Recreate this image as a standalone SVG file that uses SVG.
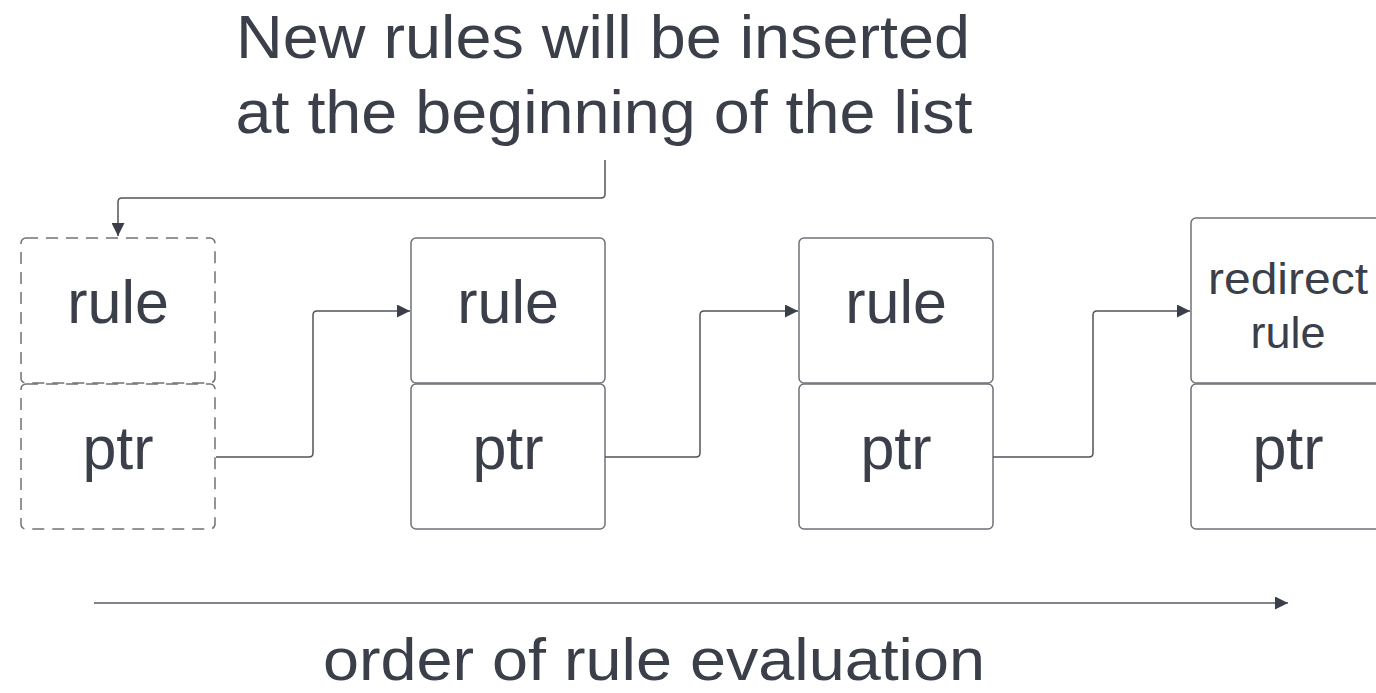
<svg xmlns="http://www.w3.org/2000/svg" width="1376" height="693" viewBox="0 0 1376 693">
<defs>
<style>
.t{font-family:"Liberation Sans",Arial,sans-serif;fill:#3a3f4a;text-anchor:middle}
.box{fill:#fff;stroke:#6e7278;stroke-width:1.5}
.dash{fill:#fff;stroke:#6e7278;stroke-width:1.5;stroke-dasharray:12 8}
.conn{fill:none;stroke:#50545b;stroke-width:1.5}
</style>
<marker id="ah" viewBox="0 0 10 10" refX="10" refY="5" markerWidth="18" markerHeight="13" markerUnits="userSpaceOnUse" orient="auto">
<path d="M0,0 L10,5 L0,10 z" fill="#3a3f4a"/>
</marker>
</defs>
<rect width="1376" height="693" fill="#fff"/>
<text class="t" x="603" y="58" font-size="62" textLength="734" lengthAdjust="spacingAndGlyphs">New rules will be inserted</text>
<text class="t" x="604" y="133" font-size="62" textLength="737" lengthAdjust="spacingAndGlyphs">at the beginning of the list</text>
<g id="node1">
<rect class="dash" x="21" y="238" width="194" height="145" rx="5"/>
<rect class="dash" x="21" y="384" width="194" height="145" rx="5"/>
<text class="t" x="118" y="323" font-size="61">rule</text>
<text class="t" x="118" y="469" font-size="61">ptr</text>
</g>
<g id="node2">
<rect class="box" x="411" y="238" width="194" height="145" rx="5"/>
<rect class="box" x="411" y="384" width="194" height="145" rx="5"/>
<text class="t" x="508" y="323" font-size="61">rule</text>
<text class="t" x="508" y="469" font-size="61">ptr</text>
</g>
<g id="node3">
<rect class="box" x="799" y="238" width="194" height="145" rx="5"/>
<rect class="box" x="799" y="384" width="194" height="145" rx="5"/>
<text class="t" x="896" y="323" font-size="61">rule</text>
<text class="t" x="896" y="469" font-size="61">ptr</text>
</g>
<g id="node4">
<rect class="box" x="1191" y="218" width="194" height="165" rx="5"/>
<rect class="box" x="1191" y="384" width="194" height="145" rx="5"/>
<text class="t" x="1288" y="294" font-size="45" textLength="160" lengthAdjust="spacingAndGlyphs">redirect</text>
<text class="t" x="1288" y="348" font-size="45">rule</text>
<text class="t" x="1288" y="469" font-size="61">ptr</text>
</g>
<g id="connectors">
<path class="conn" d="M605,160 V194 Q605,198 601,198 H122 Q118,198 118,202 V236" marker-end="url(#ah)"/>
<path class="conn" d="M216,457 H309 Q313,457 313,453 V315 Q313,311 317,311 H410" marker-end="url(#ah)"/>
<path class="conn" d="M605,457 H696 Q700,457 700,453 V315 Q700,311 704,311 H798" marker-end="url(#ah)"/>
<path class="conn" d="M993,457 H1089 Q1093,457 1093,453 V315 Q1093,311 1097,311 H1190" marker-end="url(#ah)"/>
<path d="M94,603 H1288" fill="none" stroke="#80848a" stroke-width="2" marker-end="url(#ah)"/>
</g>
<text class="t" x="654" y="680" font-size="60" textLength="662" lengthAdjust="spacingAndGlyphs">order of rule evaluation</text>
</svg>
